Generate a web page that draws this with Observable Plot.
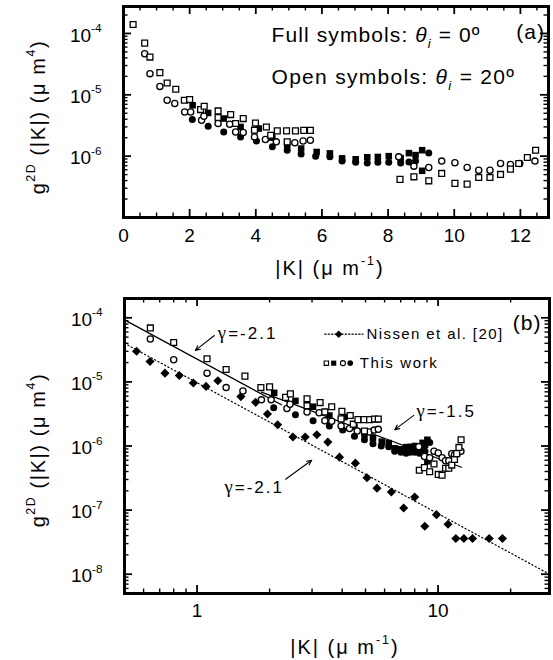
<!DOCTYPE html>
<html><head><meta charset="utf-8">
<script src="https://cdn.jsdelivr.net/npm/d3@7"></script>
<script src="https://cdn.jsdelivr.net/npm/@observablehq/plot@0.6"></script>
<style>
body{margin:0;background:#fff;}
#chart{width:553px;height:660px;overflow:hidden;background:#fff;}
#chart svg{display:block;}
</style></head><body><div id="chart"></div>
<script>
// ---------- data ----------
// open squares (theta_i = 20 deg)
const openSqK = [0.29,0.64,0.80,1.10,1.32,1.58,1.84,2.00,2.33,2.44,2.86,2.86,3.24,3.39,3.62,3.99,3.96,4.32,4.45,4.65,4.93,5.20,5.45,5.65,4.95,8.36,8.78,9.23,9.62,10.02,10.39,10.74,11.08,11.40,11.70,11.95,12.21,12.46];
const openSqG = [1.40e-4,6.95e-5,4.12e-5,2.30e-5,1.56e-5,1.23e-5,8.15e-6,8.36e-6,5.74e-6,6.5e-6,5.46e-6,4.26e-6,4.76e-6,3.4e-6,4.1e-6,3.47e-6,2.65e-6,2.99e-6,2.19e-6,2.58e-6,2.58e-6,2.58e-6,2.63e-6,2.63e-6,1.71e-6,4.18e-7,4.6e-7,3.96e-7,5.23e-7,3.6e-7,3.5e-7,4.5e-7,4.5e-7,5.04e-7,6.15e-7,7.6e-7,9.5e-7,1.25e-6];
// open circles (theta_i = 20 deg)
const openCiK = [0.64,0.80,1.10,1.32,1.55,1.85,2.03,2.36,2.43,2.86,3.21,3.39,3.62,3.96,4.29,4.62,5.18,5.43,5.65,8.32,8.78,9.23,9.62,10.02,10.39,10.74,11.08,11.40,11.70,11.98,12.44];
const openCiG = [4.68e-5,2.21e-5,1.37e-5,8.15e-6,7.2e-6,5.25e-6,5.25e-6,3.85e-6,4.47e-6,3.4e-6,3.31e-6,2.48e-6,2.43e-6,2.06e-6,1.87e-6,1.71e-6,1.65e-6,1.77e-6,1.82e-6,9.75e-7,6.87e-7,6.54e-7,8.3e-7,7.8e-7,6.55e-7,5.9e-7,5.9e-7,7.6e-7,7.3e-7,7.6e-7,8.3e-7];
// full squares (theta_i = 0 deg)
const fullSqK = [2.09,2.56,3.03,3.54,4.09,4.50,4.95,5.37,5.84,6.24,6.61,7.02,7.37,7.69,8.02,8.38,8.63,8.83,9.03,9.03];
const fullSqG = [6.75e-6,5.06e-6,4.1e-6,2.99e-6,2.82e-6,2.0e-6,1.51e-6,1.33e-6,1.17e-6,1.11e-6,9.2e-7,8.9e-7,9.6e-7,9.7e-7,1.0e-6,9.3e-7,1.12e-6,1.04e-6,1.25e-6,5.77e-7];
// full circles (theta_i = 0 deg)
const fullCiK = [2.08,2.56,3.03,3.54,4.02,4.50,4.95,5.37,5.81,6.24,6.61,7.02,7.37,7.69,8.02,8.38,8.63,8.83,9.23];
const fullCiG = [3.95e-6,3.08e-6,2.48e-6,2.06e-6,1.77e-6,1.42e-6,1.25e-6,1.08e-6,1.0e-6,9.75e-7,8.3e-7,7.98e-7,7.7e-7,7.98e-7,7.98e-7,7.7e-7,8.0e-7,8.3e-7,1.13e-6];
// Nissen et al. [20] (diamonds)
const nissenK = [0.561,0.638,0.736,0.844,0.965,1.09,1.22,1.52,1.75,1.96,2.16,2.50,2.81,3.14,3.49,3.90,4.54,5.07,5.58,6.40,7.2,8.0,8.81,9.85,11.0,11.85,12.8,13.9,16.3,18.5];
const nissenG = [3.0e-5,2.08e-5,1.37e-5,1.26e-5,9.6e-6,8.5e-6,1.04e-5,5.9e-6,4.8e-6,3.15e-6,2.15e-6,1.38e-6,1.38e-6,1.5e-6,1.15e-6,6.7e-7,5.4e-7,3.2e-7,2.2e-7,1.92e-7,1.08e-7,1.6e-7,5.6e-8,8.5e-8,6.0e-8,3.6e-8,3.6e-8,3.6e-8,3.6e-8,3.6e-8];
// power-law guide lines (end points)
const fit21K = [0.5, 2.24];   const fit21G = [9.3e-5, 4.4e-6];
const fit15K = [1.85, 12.5];  const fit15G = [6.9e-6, 4.66e-7];
const nisFitK = [0.5, 29];    const nisFitG = [4.0e-5, 1.0e-8];
// ticks
const xTicksA = [0,2,4,6,8,10,12];
const yLabA = [1e-6,1e-5,1e-4];
const yMajA = [1e-7,1e-6,1e-5,1e-4];
const xTicksB = [1,10];
const yLabB = [1e-8,1e-7,1e-6,1e-5,1e-4];
// texts
const annA = [
  {x:4.475, y:9.3e-5, t:"Full symbols: *{θ}_{i} = 0º", a:"start"},
  {x:4.475, y:1.93e-5, t:"Open symbols: *{θ}_{i} = 20º", a:"start"},
  {x:12.31, y:1.04e-4, t:"(a)", a:"middle"}
];
const annB = [
  {x:1.22, y:5.6e-5, t:"~{γ}=-2.1", a:"start", fs:17},
  {x:8.13, y:3.46e-6, t:"~{γ}=-1.5", a:"start", fs:17},
  {x:1.30, y:2.22e-7, t:"~{γ}=-2.1", a:"start", fs:17},
  {x:5.05, y:5.55e-5, t:"Nissen et al. [20]", a:"start", fs:15},
  {x:4.73, y:1.96e-5, t:"This work", a:"start", fs:15},
  {x:23.4, y:8.1e-5, t:"(b)", a:"middle", fs:21}
];
const arrowsB = [
  {x1:1.18, y1:5.3e-5, x2:0.984, y2:3.1e-5},
  {x1:7.93, y1:3.0e-6, x2:6.61, y2:1.8e-6},
  {x1:2.33, y1:3.03e-7, x2:2.99, y2:5.98e-7}
];
const legNisLineK = [3.39, 4.88]; const legNisG = 5.55e-5; const legNisDiamondK = 3.87;
const legWorkK = [3.44, 3.69, 4.03, 4.32]; const legWorkG = 1.96e-5;

// ---------- helpers ----------
const FONT = "'Liberation Sans', Arial, Helvetica, sans-serif";
const SERIF = "'Liberation Serif', 'DejaVu Serif', serif";
const pts = (xs, ys) => xs.map((x, i) => ({x, y: ys[i]}));
const fmtPow = d => `10^{${Math.round(Math.log10(d))}}`;
function logMinor(lo, hi) {
  const out = [];
  for (let e = Math.floor(Math.log10(lo)) - 1; e <= Math.ceil(Math.log10(hi)); e++)
    for (let k = 2; k <= 9; k++) { const v = k * Math.pow(10, e); if (v >= lo && v <= hi) out.push(v); }
  return out;
}
function insideTicks(xMaj, xMin, yMaj, yMin, fw, fh) {
  const M = 8, m = 4.5;
  return [
    Plot.tickX(xMaj, {x: d => d, insetTop: fh - M, strokeWidth: 1.8}),
    Plot.tickX(xMaj, {x: d => d, insetBottom: fh - M, strokeWidth: 1.8}),
    Plot.tickX(xMin, {x: d => d, insetTop: fh - m, strokeWidth: 1.4}),
    Plot.tickX(xMin, {x: d => d, insetBottom: fh - m, strokeWidth: 1.4}),
    Plot.tickY(yMaj, {y: d => d, insetRight: fw - M, strokeWidth: 1.8}),
    Plot.tickY(yMaj, {y: d => d, insetLeft: fw - M, strokeWidth: 1.8}),
    Plot.tickY(yMin, {y: d => d, insetRight: fw - m, strokeWidth: 1.4}),
    Plot.tickY(yMin, {y: d => d, insetLeft: fw - m, strokeWidth: 1.4})
  ];
}
function symbols(clip) {
  return [
    Plot.dot(pts(fullCiK, fullCiG), {x: "x", y: "y", r: 3.5, fill: "black", symbol: "circle", clip}),
    Plot.dot(pts(fullSqK, fullSqG), {x: "x", y: "y", r: 3.7, fill: "black", symbol: "square", clip}),
    Plot.dot(pts(openCiK, openCiG), {x: "x", y: "y", r: 3.1, fill: "white", stroke: "black", strokeWidth: 1.3, symbol: "circle", clip}),
    Plot.dot(pts(openSqK, openSqG), {x: "x", y: "y", r: 3.3, fill: "white", stroke: "black", strokeWidth: 1.3, symbol: "square", clip})
  ];
}
function richify(root) {
  d3.select(root).selectAll("text").each(function () {
    const el = this, s = el.textContent;
    if (!/[\^_*~]\{/.test(s)) return;
    const fs = parseFloat(getComputedStyle(el).fontSize) || 16;
    const re = /([\^_*~])\{([^}]*)\}/g;
    let last = 0, m, shift = 0;
    while (el.firstChild) el.removeChild(el.firstChild);
    const add = (txt, dy, size, italic, family) => {
      const t = d3.select(el).append("tspan").text(txt);
      if (dy) t.attr("dy", dy);
      if (size) t.attr("font-size", size);
      if (italic) t.attr("font-style", "italic");
      if (family) t.attr("font-family", family);
    };
    while ((m = re.exec(s))) {
      if (m.index > last) { add(s.slice(last, m.index), -shift); shift = 0; }
      if (m[1] === "*") { add(m[2], -shift, null, true); shift = 0; }
      else if (m[1] === "~") { add(m[2], -shift, fs * 1.1, false, SERIF); shift = 0; }
      else {
        const up = m[1] === "^" ? -0.5 * fs : 0.28 * fs;
        add(m[2], up - shift, 0.62 * fs, m[1] === "_");
        shift = up;
      }
      last = re.lastIndex;
    }
    if (last < s.length) add(s.slice(last), -shift);
  });
}
function spaceText(root, map) {
  d3.select(root).selectAll("text").each(function () {
    const ls = map.get(this.textContent);
    if (ls != null) this.setAttribute("letter-spacing", ls);
  });
}
function addText(svg, {x, y, t, fs = 20, rotate = 0, ls = 2}) {
  d3.select(svg).append("text")
    .attr("transform", `translate(${x},${y}) rotate(${rotate})`)
    .attr("text-anchor", "middle").attr("font-size", fs)
    .attr("font-family", FONT).attr("letter-spacing", ls).attr("fill", "black")
    .text(t);
}

const root = document.getElementById("chart");

// ---------- panel (a) ----------
const A = {h: 290, top: 6, bottom: 73, left: 123, right: 5};
const AfW = 553 - A.left - A.right, AfH = A.h - A.top - A.bottom;
const xMinA = d3.range(0.5, 12.85, 0.5).filter(v => v % 2 !== 0);
const plotA = Plot.plot({
  width: 553, height: A.h, marginTop: A.top, marginBottom: A.bottom, marginLeft: A.left, marginRight: A.right,
  style: {fontFamily: FONT, color: "black", background: "white"},
  x: {domain: [0, 12.85]},
  y: {type: "log", domain: [1e-7, 2.75e-4]},
  marks: [
    Plot.axisX(xTicksA, {anchor: "bottom", tickSize: 0, tickPadding: 11, fontSize: 19, label: null, tickFormat: d => String(d)}),
    Plot.axisY(yLabA, {anchor: "left", tickSize: 0, tickPadding: 22, fontSize: 19, label: null, tickFormat: fmtPow, dy: 2}),
    ...insideTicks(xTicksA, xMinA, yMajA, logMinor(1e-7, 2.75e-4), AfW, AfH),
    ...symbols(false),
    Plot.text(annA, {x: "x", y: "y", text: "t", textAnchor: "start", fontSize: 21, filter: d => d.a === "start"}),
    Plot.text(annA, {x: "x", y: "y", text: "t", textAnchor: "middle", fontSize: 21, filter: d => d.a === "middle"}),
    Plot.frame({stroke: "black", strokeWidth: 3})
  ]
});
root.appendChild(plotA);

// ---------- panel (b) ----------
const B = {h: 370, top: 8, bottom: 67, left: 124, right: 4};
const BfW = 553 - B.left - B.right, BfH = B.h - B.top - B.bottom;
const xMinB = [0.5,0.6,0.7,0.8,0.9,2,3,4,5,6,7,8,9,20];
const plotB = Plot.plot({
  width: 553, height: B.h, marginTop: B.top, marginBottom: B.bottom, marginLeft: B.left, marginRight: B.right,
  style: {fontFamily: FONT, color: "black", background: "white"},
  x: {type: "log", domain: [0.5, 29]},
  y: {type: "log", domain: [5e-9, 2e-4]},
  marks: [
    Plot.axisX(xTicksB, {anchor: "bottom", tickSize: 0, tickPadding: 10, fontSize: 19, label: null, tickFormat: d => String(d)}),
    Plot.axisY(yLabB, {anchor: "left", tickSize: 0, tickPadding: 22, fontSize: 19, label: null, tickFormat: fmtPow, dy: 2}),
    ...insideTicks(xTicksB, xMinB, yLabB, logMinor(5e-9, 2e-4), BfW, BfH),
    Plot.line(pts(nisFitK, nisFitG), {x: "x", y: "y", stroke: "black", strokeWidth: 1.2, strokeDasharray: "1.2,2.6", clip: true}),
    Plot.line(pts(fit21K, fit21G), {x: "x", y: "y", stroke: "black", strokeWidth: 1.3, clip: true}),
    Plot.line(pts(fit15K, fit15G), {x: "x", y: "y", stroke: "black", strokeWidth: 1.3, clip: true}),
    Plot.dot(pts(nissenK, nissenG), {x: "x", y: "y", r: 4.1, fill: "black", symbol: "diamond2", clip: true}),
    ...symbols(true),
    Plot.arrow(arrowsB, {x1: "x1", y1: "y1", x2: "x2", y2: "y2", stroke: "black", strokeWidth: 1.1, headLength: 7, headAngle: 50}),
    // legend
    Plot.line(legNisLineK.map(x => ({x, y: legNisG})), {x: "x", y: "y", stroke: "black", strokeWidth: 1.3, strokeDasharray: "1.2,2.2"}),
    Plot.dot([{x: legNisDiamondK, y: legNisG}], {x: "x", y: "y", r: 3.4, fill: "black", symbol: "diamond2"}),
    Plot.dot([{x: legWorkK[0], y: legWorkG}], {x: "x", y: "y", r: 2.5, fill: "white", stroke: "black", strokeWidth: 1.1, symbol: "square"}),
    Plot.dot([{x: legWorkK[1], y: legWorkG}], {x: "x", y: "y", r: 2.9, fill: "black", symbol: "square"}),
    Plot.dot([{x: legWorkK[2], y: legWorkG}], {x: "x", y: "y", r: 2.5, fill: "white", stroke: "black", strokeWidth: 1.1, symbol: "circle"}),
    Plot.dot([{x: legWorkK[3], y: legWorkG}], {x: "x", y: "y", r: 2.8, fill: "black", symbol: "circle"}),
    Plot.text(annB, {x: "x", y: "y", text: "t", textAnchor: "start", fontSize: d => d.fs, filter: d => d.a === "start"}),
    Plot.text(annB, {x: "x", y: "y", text: "t", textAnchor: "middle", fontSize: d => d.fs, filter: d => d.a === "middle"}),
    Plot.frame({stroke: "black", strokeWidth: 3})
  ]
});
root.appendChild(plotB);

// ---------- axis titles ----------
addText(plotA, {x: 45, y: 117, t: "g^{2D} (|K|) (μ m^{4})", rotate: -90, fs: 20, ls: 1.6});
addText(plotA, {x: 330, y: 275, t: "|K| (μ m^{-1})", fs: 20, ls: 2});
addText(plotB, {x: 45, y: 160, t: "g^{2D} (|K|) (μ m^{4})", rotate: -90, fs: 20, ls: 1.6});
addText(plotB, {x: 345, y: 364, t: "|K| (μ m^{-1})", fs: 20, ls: 2});

const spacing = new Map([
  ["Full symbols: *{θ}_{i} = 0º", 1.1], ["Open symbols: *{θ}_{i} = 20º", 1.3], ["(a)", 1], ["(b)", 1],
  ["~{γ}=-2.1", 2], ["~{γ}=-1.5", 2], ["Nissen et al. [20]", 1.4], ["This work", 1.6]
]);
for (const p of [plotA, plotB]) { spaceText(p, spacing); richify(p); }
</script></body></html>
